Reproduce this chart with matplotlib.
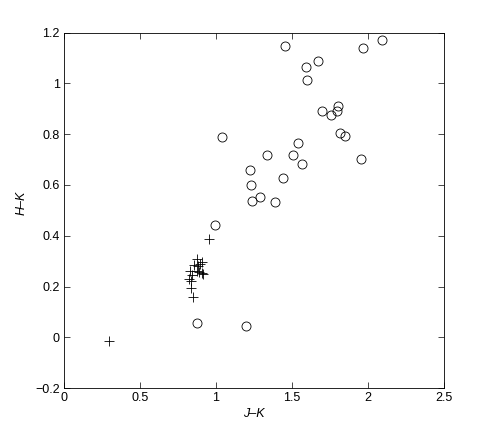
import matplotlib
matplotlib.use("Agg")
import matplotlib.pyplot as plt

plt.rcParams['font.family'] = ['Liberation Sans', 'DejaVu Sans']

# Circles (open markers)
circ_jk = [1.453, 1.964, 2.093, 1.668, 1.591, 1.596, 1.800, 1.793, 1.699, 1.754,
           1.039, 1.815, 1.850, 1.541, 1.337, 1.506, 1.953, 1.567, 1.225, 1.440,
           1.232, 1.287, 1.239, 1.388, 0.996, 0.875, 1.197]
circ_hk = [1.149, 1.138, 1.171, 1.088, 1.066, 1.014, 0.912, 0.893, 0.891, 0.874,
           0.789, 0.805, 0.794, 0.765, 0.718, 0.719, 0.702, 0.683, 0.659, 0.626,
           0.599, 0.554, 0.536, 0.534, 0.443, 0.056, 0.045]

# Plus markers
plus_jk = [0.300, 0.956, 0.875, 0.905, 0.895, 0.855, 0.884, 0.830, 0.873, 0.890,
           0.905, 0.916, 0.840, 0.822, 0.833, 0.838, 0.851]
plus_hk = [-0.013, 0.387, 0.310, 0.298, 0.290, 0.285, 0.280, 0.262, 0.262, 0.258,
           0.252, 0.249, 0.245, 0.230, 0.220, 0.195, 0.160]

x_ticks = [0, 0.5, 1, 1.5, 2, 2.5]
x_labels = ['0', '0.5', '1', '1.5', '2', '2.5']
y_ticks = [-0.2, 0, 0.2, 0.4, 0.6, 0.8, 1, 1.2]
y_labels = ['\u22120.2', '0', '0.2', '0.4', '0.6', '0.8', '1', '1.2']

fig = plt.figure(figsize=(4.91, 4.36), dpi=100)
ax = fig.add_axes([0.13, 0.11, 0.775, 0.815])

ax.plot(circ_jk, circ_hk, linestyle='none', marker='o', markersize=6.5,
        markerfacecolor='none', markeredgecolor='black', markeredgewidth=0.6)
ax.plot(plus_jk, plus_hk, linestyle='none', marker='+', markersize=7,
        color='black', markeredgewidth=0.6)

ax.set_xlim(0, 2.5)
ax.set_ylim(-0.2, 1.2)
ax.set_xticks(x_ticks)
ax.set_xticklabels(x_labels)
ax.set_yticks(y_ticks)
ax.set_yticklabels(y_labels)
ax.tick_params(direction='in', top=True, right=True, length=4, width=0.5,
               labelsize=9, pad=3)
for s in ax.spines.values():
    s.set_linewidth(0.6)
ax.set_xlabel('J\u2013K', fontstyle='italic', fontsize=9, labelpad=3)
ax.set_ylabel('H\u2013K', fontstyle='italic', fontsize=9)
ax.yaxis.set_label_coords(-0.095, 0.52)

fig.savefig('out.png', dpi=100)
